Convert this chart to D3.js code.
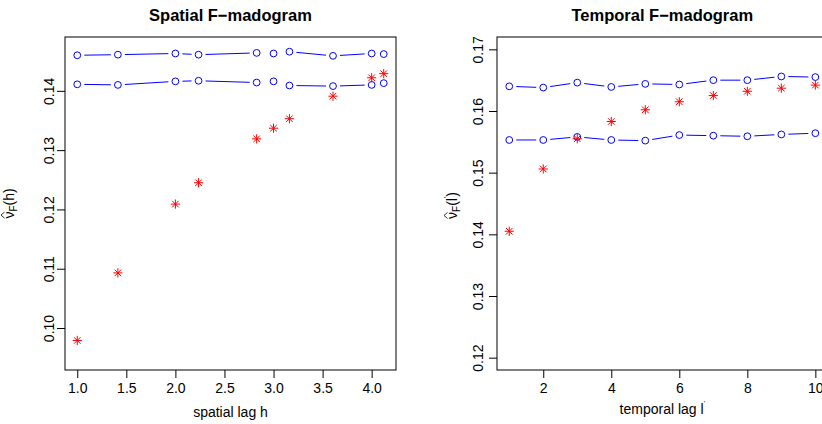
<!DOCTYPE html>
<html><head><meta charset="utf-8">
<script src="https://cdn.jsdelivr.net/npm/d3@7/dist/d3.min.js"></script>
<style>
body{margin:0;background:#fff}
svg{display:block}
text{font-family:"Liberation Sans",Arial,Helvetica,sans-serif;fill:#000}
</style>
</head><body>
<svg id="c" width="822" height="424"></svg>
<script>
// ---------- data ----------
const spatialLags  = [1, 1.414, 2, 2.236, 2.828, 3, 3.162, 3.606, 4, 4.123];
const spatialUpper = [0.1460, 0.1461, 0.1463, 0.1461, 0.1464, 0.1463, 0.1466, 0.1459, 0.1463, 0.1462];
const spatialLower = [0.1411, 0.1410, 0.1416, 0.1417, 0.1414, 0.1416, 0.1409, 0.1408, 0.1410, 0.1413];
const spatialEst   = [0.0979, 0.1093, 0.1209, 0.1245, 0.1319, 0.1337, 0.1353, 0.1391, 0.1422, 0.1429];
const spatialXTicks = [1.0, 1.5, 2.0, 2.5, 3.0, 3.5, 4.0];
const spatialYTicks = [0.10, 0.11, 0.12, 0.13, 0.14];
const spatialYLim = [0.095, 0.147];

const temporalLags  = [1, 2, 3, 4, 5, 6, 7, 8, 9, 10];
const temporalUpper = [0.1640, 0.1638, 0.1646, 0.1639, 0.1644, 0.1643, 0.1650, 0.1650, 0.1656, 0.1655];
const temporalLower = [0.1553, 0.1553, 0.1558, 0.1553, 0.1552, 0.1561, 0.1560, 0.1559, 0.1562, 0.1564];
const temporalEst   = [0.1405, 0.1506, 0.1555, 0.1583, 0.1602, 0.1615, 0.1625, 0.1632, 0.1637, 0.1642];
const temporalXTicks = [2, 4, 6, 8, 10];
const temporalYTicks = [0.12, 0.13, 0.14, 0.15, 0.16, 0.17];
const temporalYLim = [0.12, 0.17];

// ---------- drawing ----------
const svg = d3.select("#c");
svg.append("rect").attr("width", 822).attr("height", 424).attr("fill", "#fff");

function ext(l){ const r = l[1]-l[0]; return [l[0]-0.04*r, l[1]+0.04*r]; }

function starPath(cx, cy){
  const a = 4.6, b = a/Math.SQRT2;
  return `M${cx-a},${cy}H${cx+a}M${cx},${cy-a}V${cy+a}` +
         `M${cx-b},${cy-b}L${cx+b},${cy+b}M${cx-b},${cy+b}L${cx+b},${cy-b}`;
}

function panel(o){
  const x = d3.scaleLinear().domain(ext(o.xlim)).range([o.left, o.right]);
  const y = d3.scaleLinear().domain(ext(o.ylim)).range([o.bottom, o.top]);
  const g = svg.append("g");

  // title
  g.append("text").attr("x", (o.left+o.right)/2).attr("y", 21)
    .attr("text-anchor", "middle").attr("font-weight", "bold").attr("font-size", 16.5)
    .text(o.title);

  // x axis
  const ax = g.append("g").attr("transform", `translate(0,${o.bottom})`)
    .call(d3.axisBottom(x).tickValues(o.xticks).tickFormat(o.xfmt).tickSize(8).tickPadding(6));
  ax.select(".domain").remove();
  ax.selectAll(".tick line").attr("stroke", "#000");
  ax.selectAll(".tick text").attr("font-size", 14).attr("font-family", null)
    .attr("dy", null).attr("y", 393 - o.bottom);
  ax.attr("font-family", null).attr("font-size", null);

  // y axis
  const ay = g.append("g").attr("transform", `translate(${o.left},0)`)
    .call(d3.axisLeft(y).tickValues(o.yticks).tickFormat(d3.format(".2f")).tickSize(8));
  ay.select(".domain").remove();
  ay.attr("font-family", null).attr("font-size", null);
  ay.selectAll(".tick line").attr("stroke", "#000");
  ay.selectAll(".tick text").attr("font-size", 14).attr("x", null).attr("dy", null)
    .attr("text-anchor", "middle")
    .attr("transform", `translate(${o.ytickX - o.left},0) rotate(-90)`);

  // box
  g.append("rect").attr("x", o.left).attr("y", o.top)
    .attr("width", o.right-o.left).attr("height", o.bottom-o.top)
    .attr("fill", "none").attr("stroke", "#000").attr("stroke-width", 1);

  // x title
  const xt = g.append("text").attr("x", (o.left+o.right)/2 + o.xtitleDx).attr("y", o.xtitleY)
    .attr("text-anchor", "middle").attr("font-size", 14);
  xt.append("tspan").text(o.xtitle);
  if (o.prime) xt.append("tspan").attr("dy", -8).attr("font-size", 7).text("'");

  // y title : hat(nu)[F](arg)
  const yg = g.append("g").attr("transform", `translate(${o.ytitleX},${(o.top+o.bottom)/2 + o.ytitleDy}) rotate(-90)`);
  const yt = yg.append("text").attr("text-anchor", "middle").attr("font-size", 14);
  yt.append("tspan").text("\u03bd");
  yt.append("tspan").attr("font-size", 10).attr("dy", 3).text("F");
  yt.append("tspan").attr("dy", -3).text("(" + o.yarg);
  if (o.prime) yt.append("tspan").attr("font-size", 7).attr("dy", -8).text("'");
  yt.append("tspan").attr("dy", o.prime ? 8 : 0).text(")");
  // hat over nu
  const node = yt.node();
  const s = node.getStartPositionOfChar(0).x, e = node.getEndPositionOfChar(0).x;
  yg.append("path")
    .attr("d", `M${s+0.5},-9.5L${(s+e)/2},-13L${e-0.5},-9.5`)
    .attr("fill", "none").attr("stroke", "#000").attr("stroke-width", 0.8);

  // series with type="b" style gaps
  const gap = 7;
  function lineSeries(vals){
    const pts = o.lags.map((l,i) => [x(l), y(vals[i])]);
    let d = "";
    for (let i = 0; i < pts.length-1; i++){
      const [x0,y0] = pts[i], [x1,y1] = pts[i+1];
      const dist = Math.hypot(x1-x0, y1-y0);
      if (dist - 2*gap < 3) continue;
      const f = gap/dist;
      d += `M${x0+f*(x1-x0)},${y0+f*(y1-y0)}L${x1-f*(x1-x0)},${y1-f*(y1-y0)}`;
    }
    g.append("path").attr("d", d).attr("fill", "none").attr("stroke", "#0000ff").attr("stroke-width", 1);
    g.selectAll(null).data(pts).join("circle")
      .attr("cx", p => p[0]).attr("cy", p => p[1]).attr("r", 3.4)
      .attr("fill", "none").attr("stroke", "#0000ff").attr("stroke-width", 1);
  }
  lineSeries(o.upper);
  lineSeries(o.lower);

  g.selectAll(null).data(o.est).join("path")
    .attr("d", (v,i) => starPath(x(o.lags[i]), y(v)))
    .attr("fill", "none").attr("stroke", "#ff0000").attr("stroke-width", 1);
}

panel({
  left: 65, right: 396, top: 37, bottom: 370,
  xlim: [1, 4.123], ylim: spatialYLim,
  xticks: spatialXTicks, xfmt: d3.format(".1f"), yticks: spatialYTicks,
  lags: spatialLags, upper: spatialUpper, lower: spatialLower, est: spatialEst,
  title: "Spatial F\u2212madogram", xtitle: "spatial lag h", xtitleY: 417, xtitleDx: 0,
  yarg: "h", prime: false, ytickX: 53.5, ytitleX: 14, ytitleDy: 0
});
panel({
  left: 497, right: 827.6, top: 37, bottom: 370,
  xlim: [1, 10], ylim: temporalYLim,
  xticks: temporalXTicks, xfmt: d3.format("d"), yticks: temporalYTicks,
  lags: temporalLags, upper: temporalUpper, lower: temporalLower, est: temporalEst,
  title: "Temporal F\u2212madogram", xtitle: "temporal lag l", xtitleY: 413.5, xtitleDx: 0,
  yarg: "l", prime: true, ytickX: 482.5, ytitleX: 457, ytitleDy: 2
});
</script>
</body></html>
